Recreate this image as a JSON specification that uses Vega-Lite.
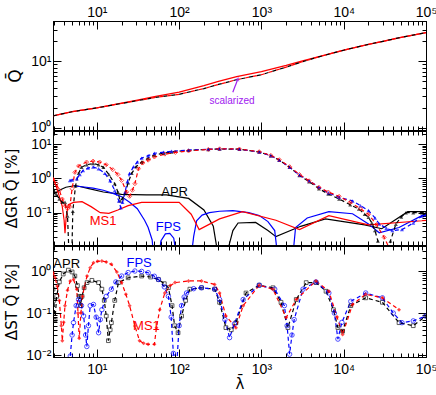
{
"$schema":"https://vega.github.io/schema/vega-lite/v6.json",
"background":"white",
"padding":{"left":4,"top":0,"right":0,"bottom":2},
"bounds":"flush",
"spacing":1,
"resolve":{"scale":{"color":"independent"}},
"config":{"font":"Liberation Sans","view":{"stroke":"black","strokeWidth":1},
 "axis":{"labelFont":"Liberation Sans","labelFontSize":14,"labelColor":"black","titleFont":"DejaVu Sans","titleFontSize":15,"titleFontWeight":"normal","titleColor":"black","domainColor":"black","tickColor":"black","grid":false,"labelOverlap":false,"labelFlush":false}},
"datasets":{
"p1":[
{"l":2.93,"q":1.52,"c":"full"},{"l":5,"q":1.75,"c":"full"},{"l":10,"q":2.0,"c":"full"},{"l":20,"q":2.35,"c":"full"},{"l":30,"q":2.6,"c":"full"},{"l":50,"q":2.95,"c":"full"},{"l":100,"q":3.45,"c":"full"},{"l":200,"q":4.3,"c":"full"},{"l":300,"q":5.0,"c":"full"},{"l":500,"q":5.9,"c":"full"},{"l":1000,"q":7.0,"c":"full"},{"l":2000,"q":8.7,"c":"full"},{"l":3000,"q":10,"c":"full"},{"l":5000,"q":11.8,"c":"full"},{"l":10000,"q":14.7,"c":"full"},{"l":20000,"q":18,"c":"full"},{"l":30000,"q":20,"c":"full"},{"l":50000,"q":23,"c":"full"},{"l":100000,"q":27,"c":"full"},
{"l":2.93,"q":1.52,"c":"sr"},{"l":5,"q":1.75,"c":"sr"},{"l":10,"q":2.0,"c":"sr"},{"l":20,"q":2.33,"c":"sr"},{"l":30,"q":2.55,"c":"sr"},{"l":50,"q":2.85,"c":"sr"},{"l":100,"q":3.2,"c":"sr"},{"l":200,"q":3.9,"c":"sr"},{"l":300,"q":4.5,"c":"sr"},{"l":500,"q":5.3,"c":"sr"},{"l":1000,"q":6.3,"c":"sr"},{"l":2000,"q":8.2,"c":"sr"},{"l":3000,"q":9.7,"c":"sr"},{"l":5000,"q":11.7,"c":"sr"},{"l":10000,"q":14.7,"c":"sr"},{"l":20000,"q":18,"c":"sr"},{"l":30000,"q":20,"c":"sr"},{"l":50000,"q":23,"c":"sr"},{"l":100000,"q":27,"c":"sr"},
{"l":2.93,"q":1.52,"c":"sb"},{"l":5,"q":1.75,"c":"sb"},{"l":10,"q":2.0,"c":"sb"},{"l":20,"q":2.33,"c":"sb"},{"l":30,"q":2.55,"c":"sb"},{"l":50,"q":2.85,"c":"sb"},{"l":100,"q":3.2,"c":"sb"},{"l":200,"q":3.9,"c":"sb"},{"l":300,"q":4.5,"c":"sb"},{"l":500,"q":5.3,"c":"sb"},{"l":1000,"q":6.3,"c":"sb"},{"l":2000,"q":8.2,"c":"sb"},{"l":3000,"q":9.7,"c":"sb"},{"l":5000,"q":11.7,"c":"sb"},{"l":10000,"q":14.7,"c":"sb"},{"l":20000,"q":18,"c":"sb"},{"l":30000,"q":20,"c":"sb"},{"l":50000,"q":23,"c":"sb"},{"l":100000,"q":27,"c":"sb"}
],
"arrow":[{"l1":449,"q1":3.43,"l2":510,"q2":5.2}],
"arrowhead":[{"l":516,"q":5.47}],
"t1":[{"l":439,"q":2.56,"t":"scalarized"}],
"p2":[
{"m":"APR","s":"line","l":3.0,"v":0.35},{"m":"APR","s":"line","l":3.5,"v":0.45},{"m":"APR","s":"line","l":4.2,"v":0.55},{"m":"APR","s":"line","l":5.5,"v":0.62},{"m":"APR","s":"line","l":8,"v":0.5},{"m":"APR","s":"line","l":12,"v":0.4},{"m":"APR","s":"line","l":20,"v":0.34},{"m":"APR","s":"line","l":40,"v":0.33},{"m":"APR","s":"line","l":70,"v":0.33},{"m":"APR","s":"line","l":130,"v":0.26},{"m":"APR","s":"line","l":200,"v":0.12},{"m":"APR","s":"line","l":260,"v":0.04},{"m":"APR","s":"line","l":300,"v":0.005},{"m":"APR","s":"line","l":370,"v":0.005},{"m":"APR","s":"line","l":450,"v":0.03},{"m":"APR","s":"line","l":520,"v":0.05},{"m":"APR","s":"line","l":850,"v":0.052},{"m":"APR","s":"line","l":1200,"v":0.03},{"m":"APR","s":"line","l":1500,"v":0.02},{"m":"APR","s":"line","l":3000,"v":0.04},{"m":"APR","s":"line","l":6000,"v":0.066},{"m":"APR","s":"line","l":18000,"v":0.044},{"m":"APR","s":"line","l":29000,"v":0.034},{"m":"APR","s":"line","l":60000,"v":0.107},{"m":"APR","s":"line","l":100000,"v":0.107},
{"m":"FPS","s":"line","l":5.3,"v":0.6},{"m":"FPS","s":"line","l":6.6,"v":0.57},{"m":"FPS","s":"line","l":9,"v":0.52},{"m":"FPS","s":"line","l":12,"v":0.45},{"m":"FPS","s":"line","l":16,"v":0.36},{"m":"FPS","s":"line","l":20,"v":0.29},{"m":"FPS","s":"line","l":25,"v":0.2},{"m":"FPS","s":"line","l":31,"v":0.13},{"m":"FPS","s":"line","l":38,"v":0.06},{"m":"FPS","s":"line","l":42,"v":0.037},{"m":"FPS","s":"line","l":47,"v":0.016},{"m":"FPS","s":"line","l":49,"v":0.005},{"m":"FPS","s":"line","l":57,"v":0.005},{"m":"FPS","s":"line","l":60,"v":0.015},{"m":"FPS","s":"line","l":68,"v":0.024},{"m":"FPS","s":"line","l":77,"v":0.025},{"m":"FPS","s":"line","l":86,"v":0.018},{"m":"FPS","s":"line","l":93,"v":0.005},{"m":"FPS","s":"line","l":140,"v":0.005},{"m":"FPS","s":"line","l":150,"v":0.02},{"m":"FPS","s":"line","l":163,"v":0.058},{"m":"FPS","s":"line","l":190,"v":0.085},{"m":"FPS","s":"line","l":233,"v":0.1},{"m":"FPS","s":"line","l":310,"v":0.11},{"m":"FPS","s":"line","l":450,"v":0.115},{"m":"FPS","s":"line","l":700,"v":0.1},{"m":"FPS","s":"line","l":940,"v":0.082},{"m":"FPS","s":"line","l":1200,"v":0.055},{"m":"FPS","s":"line","l":1450,"v":0.03},{"m":"FPS","s":"line","l":1580,"v":0.005},{"m":"FPS","s":"line","l":2400,"v":0.005},{"m":"FPS","s":"line","l":2600,"v":0.037},{"m":"FPS","s":"line","l":3600,"v":0.07},{"m":"FPS","s":"line","l":6600,"v":0.107},{"m":"FPS","s":"line","l":12800,"v":0.093},{"m":"FPS","s":"line","l":20000,"v":0.047},{"m":"FPS","s":"line","l":27000,"v":0.026},{"m":"FPS","s":"line","l":47000,"v":0.037},{"m":"FPS","s":"line","l":89000,"v":0.082},{"m":"FPS","s":"line","l":100000,"v":0.085},
{"m":"MS1","s":"line","l":2.93,"v":1.05},{"m":"MS1","s":"line","l":3.2,"v":0.6},{"m":"MS1","s":"line","l":3.5,"v":0.3},{"m":"MS1","s":"line","l":3.8,"v":0.15},{"m":"MS1","s":"line","l":4.0,"v":0.06},{"m":"MS1","s":"line","l":4.1,"v":0.025},{"m":"MS1","s":"line","l":4.25,"v":0.08},{"m":"MS1","s":"line","l":4.5,"v":0.17},{"m":"MS1","s":"line","l":5.2,"v":0.2},{"m":"MS1","s":"line","l":6.6,"v":0.21},{"m":"MS1","s":"line","l":8.5,"v":0.15},{"m":"MS1","s":"line","l":11,"v":0.1},{"m":"MS1","s":"line","l":14,"v":0.095},{"m":"MS1","s":"line","l":18,"v":0.12},{"m":"MS1","s":"line","l":24,"v":0.16},{"m":"MS1","s":"line","l":35,"v":0.2},{"m":"MS1","s":"line","l":100,"v":0.2},{"m":"MS1","s":"line","l":140,"v":0.09},{"m":"MS1","s":"line","l":175,"v":0.032},{"m":"MS1","s":"line","l":310,"v":0.066},{"m":"MS1","s":"line","l":590,"v":0.107},{"m":"MS1","s":"line","l":1500,"v":0.06},{"m":"MS1","s":"line","l":2900,"v":0.032},{"m":"MS1","s":"line","l":6600,"v":0.082},{"m":"MS1","s":"line","l":20000,"v":0.044},{"m":"MS1","s":"line","l":89000,"v":0.058},{"m":"MS1","s":"line","l":100000,"v":0.06},
{"m":"APR","s":"mark","l":2.95,"v":0.5},{"m":"APR","s":"mark","l":3.2,"v":0.35},{"m":"APR","s":"mark","l":3.5,"v":0.25},{"m":"APR","s":"mark","l":3.8,"v":0.2},{"m":"APR","s":"mark","l":4.1,"v":0.2},{"m":"APR","s":"mark","l":4.4,"v":0.08},{"m":"APR","s":"mark","l":4.6,"v":0.005},{"m":"APR","s":"mark","l":4.95,"v":0.005},{"m":"APR","s":"mark","l":5.1,"v":0.11},{"m":"APR","s":"mark","l":5.5,"v":0.6},{"m":"APR","s":"mark","l":6.0,"v":1.4},{"m":"APR","s":"mark","l":6.5,"v":2.1},{"m":"APR","s":"mark","l":7.5,"v":2.5},{"m":"APR","s":"mark","l":9,"v":2.7},{"m":"APR","s":"mark","l":10.5,"v":2.5},{"m":"APR","s":"mark","l":12,"v":2.1},{"m":"APR","s":"mark","l":14,"v":1.3},{"m":"APR","s":"mark","l":16.5,"v":0.7},{"m":"APR","s":"mark","l":18,"v":0.4},{"m":"APR","s":"mark","l":19.2,"v":0.22},{"m":"APR","s":"mark","l":20.5,"v":0.26},{"m":"APR","s":"mark","l":22,"v":0.36},{"m":"APR","s":"mark","l":24,"v":0.75},{"m":"APR","s":"mark","l":26.5,"v":1.4},{"m":"APR","s":"mark","l":30,"v":2.2},{"m":"APR","s":"mark","l":35,"v":3.0},{"m":"APR","s":"mark","l":42,"v":3.9},{"m":"APR","s":"mark","l":50,"v":4.8},{"m":"APR","s":"mark","l":65,"v":5.4},{"m":"APR","s":"mark","l":81,"v":5.9},{"m":"APR","s":"mark","l":130,"v":6.6},{"m":"APR","s":"mark","l":226,"v":7.0},{"m":"APR","s":"mark","l":310,"v":7.2},{"m":"APR","s":"mark","l":540,"v":7.1},{"m":"APR","s":"mark","l":940,"v":5.9},{"m":"APR","s":"mark","l":1300,"v":4.6},{"m":"APR","s":"mark","l":1650,"v":3.4},{"m":"APR","s":"mark","l":2200,"v":2.1},{"m":"APR","s":"mark","l":2900,"v":1.22},{"m":"APR","s":"mark","l":3800,"v":0.8},{"m":"APR","s":"mark","l":5000,"v":0.5},{"m":"APR","s":"mark","l":6500,"v":0.35},{"m":"APR","s":"mark","l":8800,"v":0.25},{"m":"APR","s":"mark","l":12000,"v":0.17},{"m":"APR","s":"mark","l":15300,"v":0.128},{"m":"APR","s":"mark","l":18000,"v":0.09},{"m":"APR","s":"mark","l":20000,"v":0.073},{"m":"APR","s":"mark","l":22000,"v":0.05},{"m":"APR","s":"mark","l":24000,"v":0.03},{"m":"APR","s":"mark","l":26000,"v":0.015},{"m":"APR","s":"mark","l":27500,"v":0.005},{"m":"APR","s":"mark","l":35000,"v":0.005},{"m":"APR","s":"mark","l":37000,"v":0.015},{"m":"APR","s":"mark","l":43000,"v":0.046},{"m":"APR","s":"mark","l":50000,"v":0.075},{"m":"APR","s":"mark","l":57000,"v":0.1},{"m":"APR","s":"mark","l":70000,"v":0.1},{"m":"APR","s":"mark","l":89000,"v":0.1},{"m":"APR","s":"mark","l":100000,"v":0.1},
{"m":"FPS","s":"mark","l":4.7,"v":0.87},{"m":"FPS","s":"mark","l":5.0,"v":0.9},{"m":"FPS","s":"mark","l":5.7,"v":0.98},{"m":"FPS","s":"mark","l":6.2,"v":1.3},{"m":"FPS","s":"mark","l":6.8,"v":1.7},{"m":"FPS","s":"mark","l":7.8,"v":2.0},{"m":"FPS","s":"mark","l":9,"v":2.15},{"m":"FPS","s":"mark","l":10.5,"v":1.9},{"m":"FPS","s":"mark","l":12.5,"v":1.4},{"m":"FPS","s":"mark","l":14.5,"v":0.85},{"m":"FPS","s":"mark","l":16.5,"v":0.44},{"m":"FPS","s":"mark","l":18.5,"v":0.22},{"m":"FPS","s":"mark","l":19.5,"v":0.14},{"m":"FPS","s":"mark","l":20.5,"v":0.2},{"m":"FPS","s":"mark","l":22,"v":0.4},{"m":"FPS","s":"mark","l":23.5,"v":0.8},{"m":"FPS","s":"mark","l":25,"v":1.4},{"m":"FPS","s":"mark","l":28,"v":2.2},{"m":"FPS","s":"mark","l":31,"v":3.0},{"m":"FPS","s":"mark","l":35,"v":3.9},{"m":"FPS","s":"mark","l":42,"v":4.6},{"m":"FPS","s":"mark","l":50,"v":5.4},{"m":"FPS","s":"mark","l":65,"v":5.8},{"m":"FPS","s":"mark","l":81,"v":6.2},{"m":"FPS","s":"mark","l":130,"v":6.7},{"m":"FPS","s":"mark","l":226,"v":7.1},{"m":"FPS","s":"mark","l":310,"v":7.3},{"m":"FPS","s":"mark","l":540,"v":7.1},{"m":"FPS","s":"mark","l":940,"v":5.9},{"m":"FPS","s":"mark","l":1300,"v":4.6},{"m":"FPS","s":"mark","l":1650,"v":3.4},{"m":"FPS","s":"mark","l":2200,"v":2.1},{"m":"FPS","s":"mark","l":2900,"v":1.25},{"m":"FPS","s":"mark","l":3800,"v":0.85},{"m":"FPS","s":"mark","l":5000,"v":0.55},{"m":"FPS","s":"mark","l":6500,"v":0.38},{"m":"FPS","s":"mark","l":8800,"v":0.28},{"m":"FPS","s":"mark","l":12800,"v":0.22},{"m":"FPS","s":"mark","l":16000,"v":0.16},{"m":"FPS","s":"mark","l":20000,"v":0.115},{"m":"FPS","s":"mark","l":24000,"v":0.07},{"m":"FPS","s":"mark","l":27000,"v":0.047},{"m":"FPS","s":"mark","l":33000,"v":0.035},{"m":"FPS","s":"mark","l":39000,"v":0.03},{"m":"FPS","s":"mark","l":51000,"v":0.032},{"m":"FPS","s":"mark","l":70000,"v":0.05},{"m":"FPS","s":"mark","l":89000,"v":0.08},{"m":"FPS","s":"mark","l":100000,"v":0.085},
{"m":"MS1","s":"mark","l":2.93,"v":0.95},{"m":"MS1","s":"mark","l":3.2,"v":0.7},{"m":"MS1","s":"mark","l":3.5,"v":0.45},{"m":"MS1","s":"mark","l":3.8,"v":0.25},{"m":"MS1","s":"mark","l":4.1,"v":0.16},{"m":"MS1","s":"mark","l":4.4,"v":0.13},{"m":"MS1","s":"mark","l":4.7,"v":0.15},{"m":"MS1","s":"mark","l":5.0,"v":0.5},{"m":"MS1","s":"mark","l":5.4,"v":1.5},{"m":"MS1","s":"mark","l":6.0,"v":2.3},{"m":"MS1","s":"mark","l":7.5,"v":3.0},{"m":"MS1","s":"mark","l":9,"v":3.2},{"m":"MS1","s":"mark","l":10.8,"v":3.0},{"m":"MS1","s":"mark","l":13,"v":2.5},{"m":"MS1","s":"mark","l":15.6,"v":1.8},{"m":"MS1","s":"mark","l":18,"v":1.3},{"m":"MS1","s":"mark","l":20,"v":0.87},{"m":"MS1","s":"mark","l":23,"v":0.4},{"m":"MS1","s":"mark","l":25,"v":0.3},{"m":"MS1","s":"mark","l":27,"v":0.45},{"m":"MS1","s":"mark","l":29,"v":0.7},{"m":"MS1","s":"mark","l":32,"v":1.9},{"m":"MS1","s":"mark","l":36,"v":2.8},{"m":"MS1","s":"mark","l":42,"v":3.4},{"m":"MS1","s":"mark","l":50,"v":4.2},{"m":"MS1","s":"mark","l":67,"v":5.1},{"m":"MS1","s":"mark","l":90,"v":5.7},{"m":"MS1","s":"mark","l":130,"v":6.3},{"m":"MS1","s":"mark","l":226,"v":7.0},{"m":"MS1","s":"mark","l":310,"v":7.3},{"m":"MS1","s":"mark","l":540,"v":7.2},{"m":"MS1","s":"mark","l":940,"v":6.0},{"m":"MS1","s":"mark","l":1300,"v":4.7},{"m":"MS1","s":"mark","l":1650,"v":3.5},{"m":"MS1","s":"mark","l":2200,"v":2.2},{"m":"MS1","s":"mark","l":2900,"v":1.3},{"m":"MS1","s":"mark","l":3800,"v":0.85},{"m":"MS1","s":"mark","l":5000,"v":0.55},{"m":"MS1","s":"mark","l":6500,"v":0.4},{"m":"MS1","s":"mark","l":8800,"v":0.3},{"m":"MS1","s":"mark","l":12000,"v":0.2},{"m":"MS1","s":"mark","l":16000,"v":0.13},{"m":"MS1","s":"mark","l":20000,"v":0.09},{"m":"MS1","s":"mark","l":25000,"v":0.045},{"m":"MS1","s":"mark","l":31000,"v":0.019},{"m":"MS1","s":"mark","l":36000,"v":0.009},{"m":"MS1","s":"mark","l":40000,"v":0.005}
],
"t2":[{"m":"APR","l":88,"v":0.4,"t":"APR"},{"m":"MS1","l":11.9,"v":0.058,"t":"MS1"},{"m":"FPS","l":74,"v":0.039,"t":"FPS"}],
"p3":[
{"m":"APR","l":2.93,"v":0.37},{"m":"APR","l":3.0,"v":0.2},{"m":"APR","l":3.1,"v":0.07},{"m":"APR","l":3.25,"v":0.25},{"m":"APR","l":3.5,"v":0.55},{"m":"APR","l":3.9,"v":0.85},{"m":"APR","l":4.5,"v":1.05},{"m":"APR","l":5.0,"v":0.95},{"m":"APR","l":5.4,"v":0.76},{"m":"APR","l":5.8,"v":0.45},{"m":"APR","l":6.1,"v":0.25},{"m":"APR","l":6.3,"v":0.15},{"m":"APR","l":6.6,"v":0.25},{"m":"APR","l":7.0,"v":0.4},{"m":"APR","l":7.6,"v":0.53},{"m":"APR","l":8.7,"v":0.6},{"m":"APR","l":10.5,"v":0.53},{"m":"APR","l":11.5,"v":0.37},{"m":"APR","l":12.3,"v":0.2},{"m":"APR","l":13,"v":0.085},{"m":"APR","l":13.8,"v":0.022},{"m":"APR","l":14.5,"v":0.04},{"m":"APR","l":15,"v":0.059},{"m":"APR","l":16.5,"v":0.2},{"m":"APR","l":18.3,"v":0.53},{"m":"APR","l":24,"v":0.69},{"m":"APR","l":35,"v":0.76},{"m":"APR","l":45,"v":0.72},{"m":"APR","l":56,"v":0.63},{"m":"APR","l":66,"v":0.5},{"m":"APR","l":74,"v":0.4},{"m":"APR","l":82,"v":0.15},{"m":"APR","l":88,"v":0.05},{"m":"APR","l":97,"v":0.034},{"m":"APR","l":107,"v":0.085},{"m":"APR","l":120,"v":0.2},{"m":"APR","l":135,"v":0.37},{"m":"APR","l":187,"v":0.4},{"m":"APR","l":270,"v":0.37},{"m":"APR","l":310,"v":0.18},{"m":"APR","l":370,"v":0.045},{"m":"APR","l":430,"v":0.04},{"m":"APR","l":490,"v":0.059},{"m":"APR","l":650,"v":0.3},{"m":"APR","l":940,"v":0.46},{"m":"APR","l":1380,"v":0.4},{"m":"APR","l":1730,"v":0.18},{"m":"APR","l":2100,"v":0.045},{"m":"APR","l":2650,"v":0.21},{"m":"APR","l":3500,"v":0.53},{"m":"APR","l":4600,"v":0.53},{"m":"APR","l":6100,"v":0.33},{"m":"APR","l":7500,"v":0.12},{"m":"APR","l":8500,"v":0.045},{"m":"APR","l":9700,"v":0.037},{"m":"APR","l":12200,"v":0.15},{"m":"APR","l":18500,"v":0.23},{"m":"APR","l":29500,"v":0.18},{"m":"APR","l":47000,"v":0.059},{"m":"APR","l":70000,"v":0.05},{"m":"APR","l":100000,"v":0.085},
{"m":"FPS","l":4.75,"v":0.0095},{"m":"FPS","l":5.0,"v":0.03},{"m":"FPS","l":5.2,"v":0.059},{"m":"FPS","l":5.6,"v":0.15},{"m":"FPS","l":6.0,"v":0.21},{"m":"FPS","l":6.5,"v":0.15},{"m":"FPS","l":6.9,"v":0.085},{"m":"FPS","l":7.3,"v":0.03},{"m":"FPS","l":7.55,"v":0.016},{"m":"FPS","l":7.9,"v":0.05},{"m":"FPS","l":8.3,"v":0.15},{"m":"FPS","l":9.1,"v":0.16},{"m":"FPS","l":9.8,"v":0.08},{"m":"FPS","l":10.5,"v":0.034},{"m":"FPS","l":11.0,"v":0.07},{"m":"FPS","l":11.5,"v":0.12},{"m":"FPS","l":13,"v":0.25},{"m":"FPS","l":15,"v":0.37},{"m":"FPS","l":17,"v":0.55},{"m":"FPS","l":20,"v":0.76},{"m":"FPS","l":24,"v":0.92},{"m":"FPS","l":29,"v":1.0},{"m":"FPS","l":35,"v":0.98},{"m":"FPS","l":42,"v":0.91},{"m":"FPS","l":50,"v":0.75},{"m":"FPS","l":56,"v":0.63},{"m":"FPS","l":66,"v":0.42},{"m":"FPS","l":74,"v":0.25},{"m":"FPS","l":80,"v":0.08},{"m":"FPS","l":85,"v":0.011},{"m":"FPS","l":93,"v":0.005},{"m":"FPS","l":100,"v":0.05},{"m":"FPS","l":107,"v":0.15},{"m":"FPS","l":115,"v":0.24},{"m":"FPS","l":123,"v":0.3},{"m":"FPS","l":150,"v":0.38},{"m":"FPS","l":187,"v":0.4},{"m":"FPS","l":270,"v":0.37},{"m":"FPS","l":310,"v":0.21},{"m":"FPS","l":360,"v":0.07},{"m":"FPS","l":410,"v":0.026},{"m":"FPS","l":470,"v":0.055},{"m":"FPS","l":600,"v":0.21},{"m":"FPS","l":940,"v":0.46},{"m":"FPS","l":1450,"v":0.37},{"m":"FPS","l":1900,"v":0.15},{"m":"FPS","l":2050,"v":0.05},{"m":"FPS","l":2200,"v":0.0105},{"m":"FPS","l":2350,"v":0.03},{"m":"FPS","l":2500,"v":0.07},{"m":"FPS","l":3200,"v":0.37},{"m":"FPS","l":4600,"v":0.55},{"m":"FPS","l":6600,"v":0.3},{"m":"FPS","l":7700,"v":0.1},{"m":"FPS","l":8500,"v":0.024},{"m":"FPS","l":9500,"v":0.06},{"m":"FPS","l":12200,"v":0.19},{"m":"FPS","l":18500,"v":0.3},{"m":"FPS","l":29500,"v":0.23},{"m":"FPS","l":40000,"v":0.1},{"m":"FPS","l":51000,"v":0.059},{"m":"FPS","l":70000,"v":0.065},{"m":"FPS","l":100000,"v":0.085},
{"m":"MS1","l":2.93,"v":0.91},{"m":"MS1","l":3.1,"v":0.7},{"m":"MS1","l":3.3,"v":0.44},{"m":"MS1","l":3.5,"v":0.2},{"m":"MS1","l":3.7,"v":0.05},{"m":"MS1","l":3.8,"v":0.022},{"m":"MS1","l":3.95,"v":0.06},{"m":"MS1","l":4.1,"v":0.15},{"m":"MS1","l":4.4,"v":0.35},{"m":"MS1","l":4.75,"v":0.58},{"m":"MS1","l":5.2,"v":0.63},{"m":"MS1","l":5.7,"v":0.37},{"m":"MS1","l":5.9,"v":0.1},{"m":"MS1","l":6.1,"v":0.025},{"m":"MS1","l":6.4,"v":0.1},{"m":"MS1","l":6.7,"v":0.25},{"m":"MS1","l":7.0,"v":0.4},{"m":"MS1","l":7.6,"v":0.76},{"m":"MS1","l":8.3,"v":1.2},{"m":"MS1","l":9.1,"v":1.58},{"m":"MS1","l":10.2,"v":1.7},{"m":"MS1","l":11.5,"v":1.73},{"m":"MS1","l":13,"v":1.65},{"m":"MS1","l":15,"v":1.44},{"m":"MS1","l":17.5,"v":0.95},{"m":"MS1","l":20,"v":0.53},{"m":"MS1","l":22.5,"v":0.28},{"m":"MS1","l":25,"v":0.15},{"m":"MS1","l":29,"v":0.049},{"m":"MS1","l":33,"v":0.022},{"m":"MS1","l":37,"v":0.019},{"m":"MS1","l":42,"v":0.018},{"m":"MS1","l":50,"v":0.018},{"m":"MS1","l":53,"v":0.045},{"m":"MS1","l":58,"v":0.12},{"m":"MS1","l":67,"v":0.3},{"m":"MS1","l":78,"v":0.45},{"m":"MS1","l":89,"v":0.53},{"m":"MS1","l":130,"v":0.58},{"m":"MS1","l":187,"v":0.58},{"m":"MS1","l":270,"v":0.48},{"m":"MS1","l":310,"v":0.3},{"m":"MS1","l":370,"v":0.085},{"m":"MS1","l":490,"v":0.045},{"m":"MS1","l":600,"v":0.15},{"m":"MS1","l":940,"v":0.46},{"m":"MS1","l":1380,"v":0.37},{"m":"MS1","l":2000,"v":0.078},{"m":"MS1","l":2650,"v":0.21},{"m":"MS1","l":4600,"v":0.58},{"m":"MS1","l":6600,"v":0.33},{"m":"MS1","l":8300,"v":0.08},{"m":"MS1","l":9700,"v":0.031},{"m":"MS1","l":12800,"v":0.16},{"m":"MS1","l":18500,"v":0.28},{"m":"MS1","l":29500,"v":0.23},{"m":"MS1","l":47000,"v":0.12}
],
"t3":[{"m":"APR","l":4.3,"v":1.44,"t":"APR"},{"m":"FPS","l":32.6,"v":1.58,"t":"FPS"},{"m":"MS1","l":40,"v":0.05,"t":"MS1"}]
},
"vconcat":[
{"width":373,"height":109,
 "layer":[
  {"data":{"name":"p1"},"transform":[{"filter":"datum.c=='full'"}],"mark":{"type":"line","clip":true,"strokeWidth":1.3,"color":"#ff0000"},
   "encoding":{
    "x":{"field":"l","type":"quantitative","scale":{"type":"log","domain":[2.93,100000],"nice":false},
      "axis":{"orient":"top","title":null,"values":[3,4,5,6,7,8,9,10,20,30,40,50,60,70,80,90,100,200,300,400,500,600,700,800,900,1000,2000,3000,4000,5000,6000,7000,8000,9000,10000,20000,30000,40000,50000,60000,70000,80000,90000,100000],
       "labelExpr":"abs(log(datum.value)/LN10-round(log(datum.value)/LN10))<0.001?'10'+['⁻²','⁻¹','⁰','¹','²','³','⁴','⁵'][round(log(datum.value)/LN10)+2]:''",
       "tickSize":{"condition":{"test":"abs(log(datum.value)/LN10-round(log(datum.value)/LN10))<0.001","value":-8},"value":-4},"labelPadding":10}},
    "y":{"field":"q","type":"quantitative","scale":{"type":"log","domain":[0.93,40.4],"nice":false},
      "axis":{"orient":"left","title":"Q̄","titleFontSize":17,"values":[1,2,3,4,5,6,7,8,9,10,20,30,40],
       "labelExpr":"abs(log(datum.value)/LN10-round(log(datum.value)/LN10))<0.001?'10'+['⁻²','⁻¹','⁰','¹','²','³','⁴','⁵'][round(log(datum.value)/LN10)+2]:''",
       "tickSize":{"condition":{"test":"abs(log(datum.value)/LN10-round(log(datum.value)/LN10))<0.001","value":-8},"value":-4},"labelPadding":10,"titlePadding":6}}
   }},
  {"data":{"name":"p1"},"transform":[{"filter":"datum.c=='sb'"}],"mark":{"type":"line","clip":true,"strokeWidth":1.2,"color":"#000000","strokeDash":[4,4]},
   "encoding":{"x":{"field":"l","type":"quantitative","axis":null},"y":{"field":"q","type":"quantitative","axis":null}}},
  {"data":{"name":"p1"},"transform":[{"filter":"datum.c=='sr'"}],"mark":{"type":"line","clip":true,"strokeWidth":1.2,"color":"#ff0000","strokeDash":[4,4],"strokeDashOffset":4},
   "encoding":{"x":{"field":"l","type":"quantitative","axis":null},"y":{"field":"q","type":"quantitative","axis":null}}},
  {"data":{"name":"arrow"},"mark":{"type":"rule","color":"#a020f0","strokeWidth":1.2},
   "encoding":{"x":{"field":"l1","type":"quantitative","axis":null},"y":{"field":"q1","type":"quantitative","axis":null},"x2":{"field":"l2"},"y2":{"field":"q2"}}},
  {"data":{"name":"arrowhead"},"mark":{"type":"point","shape":"triangle-up","filled":true,"color":"#a020f0","size":22,"angle":20},
   "encoding":{"x":{"field":"l","type":"quantitative","axis":null},"y":{"field":"q","type":"quantitative","axis":null}}},
  {"data":{"name":"t1"},"mark":{"type":"text","color":"#a020f0","fontSize":10,"font":"Liberation Sans"},
   "encoding":{"x":{"field":"l","type":"quantitative",
      "axis":{"orient":"bottom","title":null,"labels":false,"values":[3,4,5,6,7,8,9,10,20,30,40,50,60,70,80,90,100,200,300,400,500,600,700,800,900,1000,2000,3000,4000,5000,6000,7000,8000,9000,10000,20000,30000,40000,50000,60000,70000,80000,90000,100000],
      "tickSize":{"condition":{"test":"abs(log(datum.value)/LN10-round(log(datum.value)/LN10))<0.001","value":-8},"value":-4}}},
    "y":{"field":"q","type":"quantitative","axis":{"orient":"right","title":null,"labels":false,"values":[1,2,3,4,5,6,7,8,9,10,20,30,40],
      "tickSize":{"condition":{"test":"abs(log(datum.value)/LN10-round(log(datum.value)/LN10))<0.001","value":-8},"value":-4}}},
    "text":{"field":"t"}}}
 ],
 "resolve":{"axis":{"x":"independent","y":"independent"}}
},
{"width":373,"height":114,
 "layer":[
  {"data":{"name":"p2"},"transform":[{"filter":"datum.s=='line'"}],"mark":{"type":"line","clip":true,"strokeWidth":1.2},
   "encoding":{
    "x":{"field":"l","type":"quantitative","scale":{"type":"log","domain":[2.93,100000],"nice":false},
      "axis":{"orient":"bottom","title":null,"labels":false,"values":[3,4,5,6,7,8,9,10,20,30,40,50,60,70,80,90,100,200,300,400,500,600,700,800,900,1000,2000,3000,4000,5000,6000,7000,8000,9000,10000,20000,30000,40000,50000,60000,70000,80000,90000,100000],
       "tickSize":{"condition":{"test":"abs(log(datum.value)/LN10-round(log(datum.value)/LN10))<0.001","value":-8},"value":-4}}},
    "y":{"field":"v","type":"quantitative","scale":{"type":"log","domain":[0.0114,24.1],"nice":false},
      "axis":{"orient":"left","title":"ΔGR Q̄ [%]","values":[0.02,0.03,0.04,0.05,0.06,0.07,0.08,0.09,0.1,0.2,0.3,0.4,0.5,0.6,0.7,0.8,0.9,1,2,3,4,5,6,7,8,9,10,20],
       "labelExpr":"abs(log(datum.value)/LN10-round(log(datum.value)/LN10))<0.001?'10'+['⁻²','⁻¹','⁰','¹','²','³','⁴','⁵'][round(log(datum.value)/LN10)+2]:''",
       "tickSize":{"condition":{"test":"abs(log(datum.value)/LN10-round(log(datum.value)/LN10))<0.001","value":-8},"value":-4},"labelPadding":10,"titlePadding":6}},
    "color":{"field":"m","type":"nominal","scale":{"domain":["APR","MS1","FPS"],"range":["#000000","#ff0000","#0000ff"]},"legend":null}
   }},
  {"data":{"name":"p2"},"transform":[{"filter":"datum.s=='mark'"}],"mark":{"type":"line","clip":true,"strokeWidth":1.2,"strokeDash":[4,3]},
   "encoding":{"x":{"field":"l","type":"quantitative","axis":null},"y":{"field":"v","type":"quantitative","axis":null},
    "color":{"field":"m","type":"nominal","legend":null}}},
  {"data":{"name":"p2"},"transform":[{"filter":"datum.s=='mark' && datum.v>0.008 && datum.m!='MS1'"}],"mark":{"type":"point","clip":true,"shape":"triangle-up","filled":true,"size":16},
   "encoding":{"x":{"field":"l","type":"quantitative","axis":null},"y":{"field":"v","type":"quantitative","axis":null},
    "color":{"field":"m","type":"nominal","legend":null}}},
  {"data":{"name":"p2"},"transform":[{"filter":"datum.s=='mark' && datum.v>0.008 && datum.m=='MS1'"}],"mark":{"type":"point","clip":true,"shape":"diamond","filled":false,"size":16,"strokeWidth":1},
   "encoding":{"x":{"field":"l","type":"quantitative","axis":null},"y":{"field":"v","type":"quantitative","axis":null},
    "color":{"field":"m","type":"nominal","legend":null}}},
  {"data":{"name":"t2"},"mark":{"type":"text","fontSize":13,"font":"Liberation Sans"},
   "encoding":{"x":{"field":"l","type":"quantitative",
      "axis":{"orient":"top","title":null,"labels":false,"values":[3,4,5,6,7,8,9,10,20,30,40,50,60,70,80,90,100,200,300,400,500,600,700,800,900,1000,2000,3000,4000,5000,6000,7000,8000,9000,10000,20000,30000,40000,50000,60000,70000,80000,90000,100000],
      "tickSize":{"condition":{"test":"abs(log(datum.value)/LN10-round(log(datum.value)/LN10))<0.001","value":-8},"value":-4}}},
    "y":{"field":"v","type":"quantitative","axis":{"orient":"right","title":null,"labels":false,"values":[0.02,0.03,0.04,0.05,0.06,0.07,0.08,0.09,0.1,0.2,0.3,0.4,0.5,0.6,0.7,0.8,0.9,1,2,3,4,5,6,7,8,9,10,20],
      "tickSize":{"condition":{"test":"abs(log(datum.value)/LN10-round(log(datum.value)/LN10))<0.001","value":-8},"value":-4}}},
    "text":{"field":"t"},"color":{"field":"m","type":"nominal","legend":null}}}
 ],
 "resolve":{"axis":{"x":"independent","y":"independent"}}
},
{"width":373,"height":111,
 "layer":[
  {"data":{"name":"p3"},"mark":{"type":"line","clip":true,"strokeWidth":1.2,"strokeDash":[4,3]},
   "encoding":{
    "x":{"field":"l","type":"quantitative","scale":{"type":"log","domain":[2.93,100000],"nice":false},
      "axis":{"orient":"bottom","title":"λ̄","titleFontSize":15,"titlePadding":-4,"values":[3,4,5,6,7,8,9,10,20,30,40,50,60,70,80,90,100,200,300,400,500,600,700,800,900,1000,2000,3000,4000,5000,6000,7000,8000,9000,10000,20000,30000,40000,50000,60000,70000,80000,90000,100000],
       "labelExpr":"abs(log(datum.value)/LN10-round(log(datum.value)/LN10))<0.001?'10'+['⁻²','⁻¹','⁰','¹','²','³','⁴','⁵'][round(log(datum.value)/LN10)+2]:''",
       "tickSize":{"condition":{"test":"abs(log(datum.value)/LN10-round(log(datum.value)/LN10))<0.001","value":-8},"value":-4},"labelPadding":13}},
    "y":{"field":"v","type":"quantitative","scale":{"type":"log","domain":[0.009,3.94],"nice":false},
      "axis":{"orient":"left","title":"ΔST Q̄ [%]","values":[0.01,0.02,0.03,0.04,0.05,0.06,0.07,0.08,0.09,0.1,0.2,0.3,0.4,0.5,0.6,0.7,0.8,0.9,1,2,3],
       "labelExpr":"abs(log(datum.value)/LN10-round(log(datum.value)/LN10))<0.001?'10'+['⁻²','⁻¹','⁰','¹','²','³','⁴','⁵'][round(log(datum.value)/LN10)+2]:''",
       "tickSize":{"condition":{"test":"abs(log(datum.value)/LN10-round(log(datum.value)/LN10))<0.001","value":-8},"value":-4},"labelPadding":10,"titlePadding":6}},
    "color":{"field":"m","type":"nominal","scale":{"domain":["APR","MS1","FPS"],"range":["#000000","#ff0000","#0000ff"]},"legend":null}
   }},
  {"data":{"name":"p3"},"transform":[{"filter":"datum.v>0.0085 && datum.m=='APR'"}],"mark":{"type":"point","clip":true,"shape":"square","filled":false,"size":14,"strokeWidth":0.9},
   "encoding":{"x":{"field":"l","type":"quantitative","axis":null},"y":{"field":"v","type":"quantitative","axis":null},"color":{"field":"m","type":"nominal","legend":null}}},
  {"data":{"name":"p3"},"transform":[{"filter":"datum.v>0.0085 && datum.m=='FPS'"}],"mark":{"type":"point","clip":true,"shape":"circle","filled":false,"size":20,"strokeWidth":1},
   "encoding":{"x":{"field":"l","type":"quantitative","axis":null},"y":{"field":"v","type":"quantitative","axis":null},"color":{"field":"m","type":"nominal","legend":null}}},
  {"data":{"name":"p3"},"transform":[{"filter":"datum.v>0.0085 && datum.m=='MS1'"}],"mark":{"type":"point","clip":true,"shape":"diamond","filled":true,"size":16},
   "encoding":{"x":{"field":"l","type":"quantitative","axis":null},"y":{"field":"v","type":"quantitative","axis":null},"color":{"field":"m","type":"nominal","legend":null}}},
  {"data":{"name":"t3"},"mark":{"type":"text","fontSize":13,"font":"Liberation Sans"},
   "encoding":{"x":{"field":"l","type":"quantitative",
      "axis":{"orient":"top","title":null,"labels":false,"values":[3,4,5,6,7,8,9,10,20,30,40,50,60,70,80,90,100,200,300,400,500,600,700,800,900,1000,2000,3000,4000,5000,6000,7000,8000,9000,10000,20000,30000,40000,50000,60000,70000,80000,90000,100000],
      "tickSize":{"condition":{"test":"abs(log(datum.value)/LN10-round(log(datum.value)/LN10))<0.001","value":-8},"value":-4}}},
    "y":{"field":"v","type":"quantitative","axis":{"orient":"right","title":null,"labels":false,"values":[0.01,0.02,0.03,0.04,0.05,0.06,0.07,0.08,0.09,0.1,0.2,0.3,0.4,0.5,0.6,0.7,0.8,0.9,1,2,3],
      "tickSize":{"condition":{"test":"abs(log(datum.value)/LN10-round(log(datum.value)/LN10))<0.001","value":-8},"value":-4}}},
    "text":{"field":"t"},"color":{"field":"m","type":"nominal","legend":null}}}
 ],
 "resolve":{"axis":{"x":"independent","y":"independent"}}
}
]
}
